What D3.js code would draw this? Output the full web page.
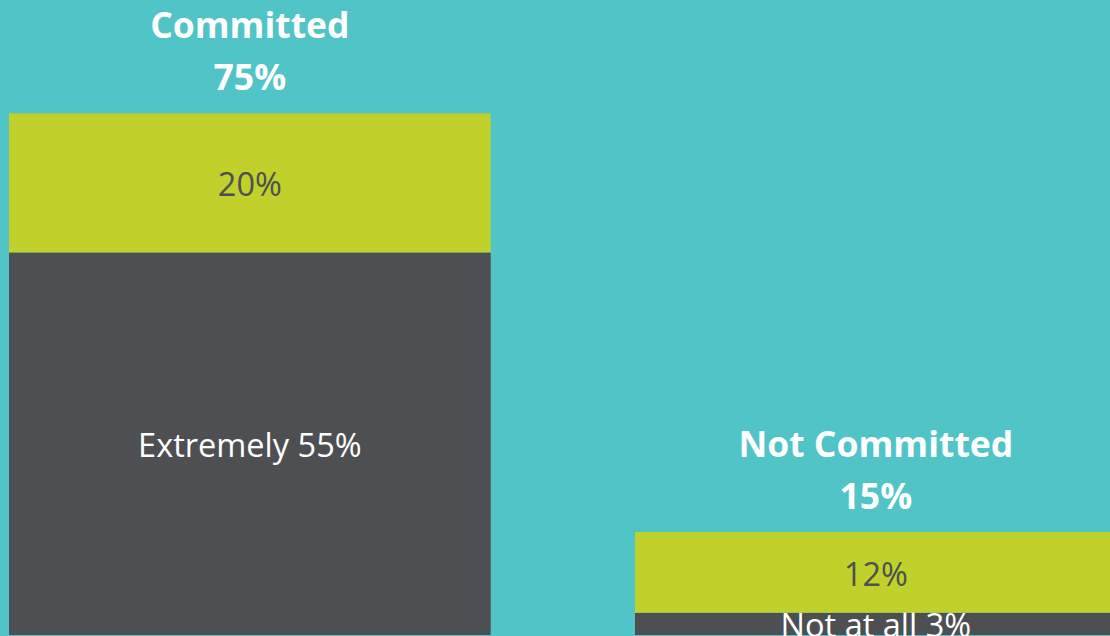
<!DOCTYPE html>
<html>
<head>
<meta charset="utf-8">
<script src="https://cdn.jsdelivr.net/npm/d3@7"></script>
<style>
  html, body { margin: 0; padding: 0; background: #50C4C6; overflow: hidden; }
  svg { display: block; }
</style>
</head>
<body>
<svg></svg>
<script>
// data
const groups = ['Committed', 'Not Committed']
const totals = ['75%', '15%']
const bottomValues = [55, 3.2]          // dark segment
const topValues = [20, 11.6]            // green segment
const bottomLabels = ['Extremely 55%', 'Not at all 3%']
const topLabels = ['20%', '12%']

let width = 1110
let height = 636

let svg = d3.select('svg')
svg.attr('width', width).attr('height', height)

const rows = groups.map((g, i) => ({
    group: g,
    total: totals[i],
    bottom: bottomValues[i],
    top: topValues[i],
    bottomLabel: bottomLabels[i],
    topLabel: topLabels[i]
}))

const stack = d3.stack().keys(['bottom', 'top'])
const series = stack(rows)

// the chart runs past the right edge of the frame
const xScale = d3.scaleBand()
                 .domain(groups)
                 .range([9, 1116.7])
                 .paddingInner(0.2305)
                 .paddingOuter(0)

const yScale = d3.scaleLinear()
                 .domain([0, 75])
                 .range([635, 113.3])

const colors = { bottom: '#4E4F52', top: '#BFD12A' }
const labelColors = { bottom: '#FFFFFF', top: '#4E4F52' }

const layers = svg.selectAll('g.layer')
                  .data(series)
                  .enter()
                  .append('g')
                  .attr('class', 'layer')

layers.selectAll('rect')
      .data(s => s.map(d => ({ key: s.key, d: d })))
      .enter()
      .append('rect')
      .attr('x', item => xScale(item.d.data.group))
      .attr('width', xScale.bandwidth())
      .attr('y', item => yScale(item.d[1]))
      .attr('height', item => yScale(item.d[0]) - yScale(item.d[1]))
      .attr('fill', item => colors[item.key])

layers.selectAll('text')
      .data(s => s.map(d => ({ key: s.key, d: d })))
      .enter()
      .append('text')
      .attr('x', item => xScale(item.d.data.group) + xScale.bandwidth() / 2)
      .attr('y', item => (yScale(item.d[0]) + yScale(item.d[1])) / 2 + 1)
      .attr('text-anchor', 'middle')
      .attr('dominant-baseline', 'central')
      .style('font-family', '"Open Sans", sans-serif')
      .style('font-size', '32.5px')
      .attr('fill', item => labelColors[item.key])
      .text(item => item.key === 'bottom' ? item.d.data.bottomLabel : item.d.data.topLabel)

// group titles above each stack
const titles = svg.selectAll('text.title')
                  .data(rows)
                  .enter()
                  .append('text')
                  .attr('class', 'title')
                  .attr('text-anchor', 'middle')
                  .style('font-family', '"Open Sans", sans-serif')
                  .style('font-weight', 'bold')
                  .style('font-size', '35.5px')
                  .attr('fill', '#FFFFFF')

titles.append('tspan')
      .attr('x', item => xScale(item.group) + xScale.bandwidth() / 2)
      .attr('y', item => yScale(item.bottom + item.top) - 75)
      .text(item => item.group)

titles.append('tspan')
      .attr('x', item => xScale(item.group) + xScale.bandwidth() / 2)
      .attr('y', item => yScale(item.bottom + item.top) - 23)
      .text(item => item.total)
</script>
</body>
</html>
